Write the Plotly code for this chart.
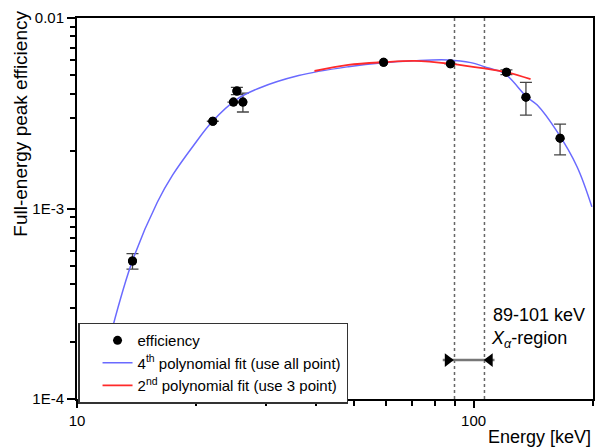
import numpy as np
import plotly.graph_objects as go

# measured efficiency points
energy = [13.8, 22.0, 24.8, 25.3, 26.2, 59.3, 87.4, 121.0, 135.5, 165.2]
efficiency = [5.30e-4, 2.87e-3, 3.62e-3, 4.14e-3, 3.62e-3, 5.85e-3, 5.75e-3, 5.19e-3, 3.84e-3, 2.34e-3]
eff_err = [0.50e-4, 0.0, 0.0, 0.18e-3, 0.41e-3, 0.0, 0.0, 0.15e-3, 0.75e-3, 0.43e-3]

# 4th polynomial fit curve
fit4_e = [11.16, 12.29, 13.79, 15.94, 17.43, 19.57, 21.96, 25.14, 28.75, 36.22, 48.33, 59.2,
          71.0, 86.1, 98.4, 108.4, 119.4, 136.0, 144.7, 162.4, 182.3, 198.7]
fit4_v = [1.02e-4, 2.37e-4, 5.30e-4, 1.078e-3, 1.500e-3, 2.111e-3, 2.87e-3, 3.71e-3, 4.28e-3,
          4.99e-3, 5.55e-3, 5.83e-3, 5.97e-3, 6.02e-3, 5.83e-3, 5.48e-3, 5.13e-3, 3.86e-3,
          3.49e-3, 2.53e-3, 1.657e-3, 1.02e-3]

# 2nd polynomial fit curve
fit2_e = [39.7, 48.3, 59.3, 71.0, 87.4, 106.4, 121.0, 139.2]
fit2_v = [5.27e-3, 5.67e-3, 5.86e-3, 5.95e-3, 5.75e-3, 5.44e-3, 5.19e-3, 4.78e-3]

# region markers
region_lines = [89.5, 106.5]
arrow_e = [83.6, 112.9]
arrow_y = 1.60e-4
arrow_heads = [86.1, 109.8]

x_tickvals = [10, 100]
x_ticktext = ["10", "100"]
x_minor = [20, 30, 40, 50, 60, 70, 80, 90, 200]
y_tickvals = [1e-4, 1e-3, 1e-2]
y_ticktext = ["1E-4", "1E-3", "0.01"]
y_minor = [m * d for d in (1e-4, 1e-3) for m in range(2, 10)]

FONT = "Liberation Sans, Arial, sans-serif"

fig = go.Figure()

for xv in region_lines:
    fig.add_trace(go.Scatter(x=[xv, xv], y=[1e-4, 1e-2], mode="lines",
                             line=dict(color="#666666", width=1.5, dash="dot"),
                             showlegend=False, hoverinfo="skip"))

fig.add_trace(go.Scatter(x=arrow_e, y=[arrow_y, arrow_y], mode="lines",
                         line=dict(color="#777777", width=2.5),
                         showlegend=False, hoverinfo="skip"))
fig.add_trace(go.Scatter(x=arrow_heads, y=[arrow_y, arrow_y], mode="markers",
                         marker=dict(symbol=["triangle-right", "triangle-left"], size=12,
                                     color="black"),
                         showlegend=False, hoverinfo="skip"))

fig.add_trace(go.Scatter(x=energy, y=efficiency, mode="markers", name="efficiency",
                         marker=dict(color="black", size=9),
                         error_y=dict(type="data", array=eff_err, color="#444444",
                                      thickness=1.3, width=6)))
fig.add_trace(go.Scatter(x=fit4_e, y=fit4_v, mode="lines",
                         name="4<sup>th</sup> polynomial fit (use all point)",
                         line=dict(color="#6a6aff", width=1.5, shape="spline")))
fig.add_trace(go.Scatter(x=fit2_e, y=fit2_v, mode="lines",
                         name="2<sup>nd</sup> polynomial fit (use 3 point)",
                         line=dict(color="#ff2a2a", width=1.8, shape="spline")))

# re-plot markers above the curves
fig.add_trace(go.Scatter(x=energy, y=efficiency, mode="markers", showlegend=False,
                         marker=dict(color="black", size=9), hoverinfo="skip"))

fig.update_layout(
    width=597, height=448,
    margin=dict(l=77, r=2, t=18, b=49),
    paper_bgcolor="white", plot_bgcolor="white",
    font=dict(family=FONT, size=15, color="black"),
    showlegend=True,
    legend=dict(x=0.002, y=-0.012, xanchor="left", yanchor="bottom",
                bgcolor="white", bordercolor="#333333", borderwidth=1.5,
                font=dict(size=15), indentation=18, tracegroupgap=0),
    annotations=[
        dict(text="Full-energy peak efficiency", xref="paper", yref="paper",
             x=-0.109, y=0.722, textangle=-90, showarrow=False,
             font=dict(size=19), xanchor="center", yanchor="middle"),
        dict(text="Energy [keV]", xref="paper", yref="paper", x=1.0, y=-0.0997,
             showarrow=False, font=dict(size=18), xanchor="right", yanchor="middle"),
        dict(text="89-101 keV", xref="x", yref="y", x=np.log10(110.5), y=-3.559,
             showarrow=False, font=dict(size=18), xanchor="left", yanchor="middle"),
        dict(text="<i>X</i><sub><i>α</i></sub>-region", xref="x", yref="y",
             x=np.log10(109.5), y=-3.69,
             showarrow=False, font=dict(size=18), xanchor="left", yanchor="middle"),
    ],
)

fig.update_xaxes(type="log", range=[1, np.log10(200)],
                 tickmode="array", tickvals=x_tickvals, ticktext=x_ticktext,
                 ticks="outside", ticklen=7, tickwidth=1.5, tickcolor="black",
                 minor=dict(tickmode="array", tickvals=x_minor, ticks="outside",
                            ticklen=5, tickwidth=1.5, tickcolor="black", showgrid=False),
                 showline=True, linecolor="black", linewidth=2, mirror=True,
                 showgrid=False, zeroline=False, tickfont=dict(size=15))
fig.update_yaxes(type="log", range=[-4, -2],
                 tickmode="array", tickvals=y_tickvals, ticktext=y_ticktext,
                 ticks="outside", ticklen=8, tickwidth=1.5, tickcolor="black",
                 minor=dict(tickmode="array", tickvals=y_minor, ticks="outside",
                            ticklen=5, tickwidth=1.5, tickcolor="black", showgrid=False),
                 showline=True, linecolor="black", linewidth=2, mirror=True,
                 showgrid=False, zeroline=False, tickfont=dict(size=15))

fig.write_html("out.html", config={"displayModeBar": False},
               post_script="document.body.style.margin='0';")
